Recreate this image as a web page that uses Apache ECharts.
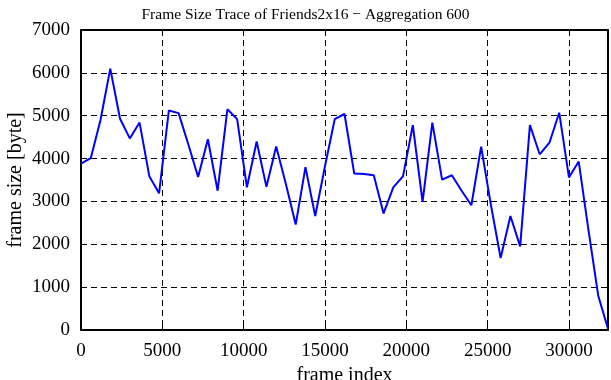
<!DOCTYPE html>
<html>
<head>
<meta charset="utf-8">
<script src="https://cdn.jsdelivr.net/npm/echarts@6/dist/echarts.min.js"></script>
<style>html,body{margin:0;padding:0;background:#fff;}#c{width:611px;height:380px;}</style>
</head>
<body>
<div id="c"></div>
<script>
const titleText = 'Frame Size Trace of Friends2x16 \u2212 Aggregation 600';
const xName = 'frame index';
const yName = 'frame size [byte]';
const frameIndex = [0,600,1200,1800,2400,3000,3600,4200,4800,5400,6000,6600,7200,7800,8400,9000,9600,10200,10800,11400,12000,12600,13200,13800,14400,15000,15600,16200,16800,17400,18000,18600,19200,19800,20400,21000,21600,22200,22800,23400,24000,24600,25200,25800,26400,27000,27600,28200,28800,29400,30000,30600,31200,31800,32400];
const frameSize = [3880,4010,4900,6100,4930,4470,4840,3590,3190,5120,5060,4330,3570,4450,3250,5150,4920,3330,4400,3340,4280,3400,2460,3800,2660,3820,4920,5040,3650,3640,3610,2720,3330,3590,4780,2990,4840,3510,3610,3250,2910,4280,2920,1680,2660,1950,4780,4100,4370,5070,3560,3930,2330,800,30];
const xMin = 0, xMax = 32400, xStep = 5000;
const yMin = 0, yMax = 7000, yStep = 1000;

const font = 'Liberation Serif';
const chart = echarts.init(document.getElementById('c'), null, {renderer:'canvas'});
const borderLine = {show:true, onZero:false, lineStyle:{color:'#000', width:2}};
const tickIn = {show:true, inside:true, length:6, lineStyle:{color:'#000', width:1}};
const grid = {show:true, lineStyle:{color:'#000', width:1, type:[6,4]}};
const plain = v => String(v);
chart.setOption({
  animation:false,
  backgroundColor:'#fff',
  title:{text:titleText, left:'center', top:2, textStyle:{fontFamily:font, fontSize:15.5, fontWeight:'normal', color:'#000'}},
  grid:{left:81, right:3, top:30, bottom:50, containLabel:false, outerBoundsMode:'none'},
  xAxis:[
    {type:'value', min:xMin, max:xMax, interval:xStep, position:'bottom',
     name:xName, nameLocation:'middle', nameGap:31, nameTextStyle:{fontFamily:font, fontSize:20, color:'#000'},
     axisLine:borderLine, axisTick:tickIn, splitLine:grid,
     axisLabel:{fontFamily:font, fontSize:19, color:'#000', margin:12, showMaxLabel:false, formatter:plain}},
    {type:'value', min:xMin, max:xMax, interval:xStep, position:'top',
     axisLine:borderLine, axisTick:tickIn, splitLine:{show:false}, axisLabel:{show:false}}
  ],
  yAxis:[
    {type:'value', min:yMin, max:yMax, interval:yStep, position:'left',
     name:yName, nameLocation:'middle', nameGap:55, nameMoveOverlap:false, nameTextStyle:{fontFamily:font, fontSize:20, color:'#000'},
     axisLine:borderLine, axisTick:tickIn, splitLine:grid,
     axisLabel:{fontFamily:font, fontSize:19, color:'#000', margin:11, formatter:plain}},
    {type:'value', min:yMin, max:yMax, interval:yStep, position:'right',
     axisLine:borderLine, axisTick:tickIn, splitLine:{show:false}, axisLabel:{show:false}}
  ],
  series:[{type:'line', xAxisIndex:0, yAxisIndex:0, showSymbol:false, symbol:'none',
    lineStyle:{color:'#0000ff', width:2}, data:frameIndex.map((x,i)=>[x, frameSize[i]])}]
});
</script>
</body>
</html>
